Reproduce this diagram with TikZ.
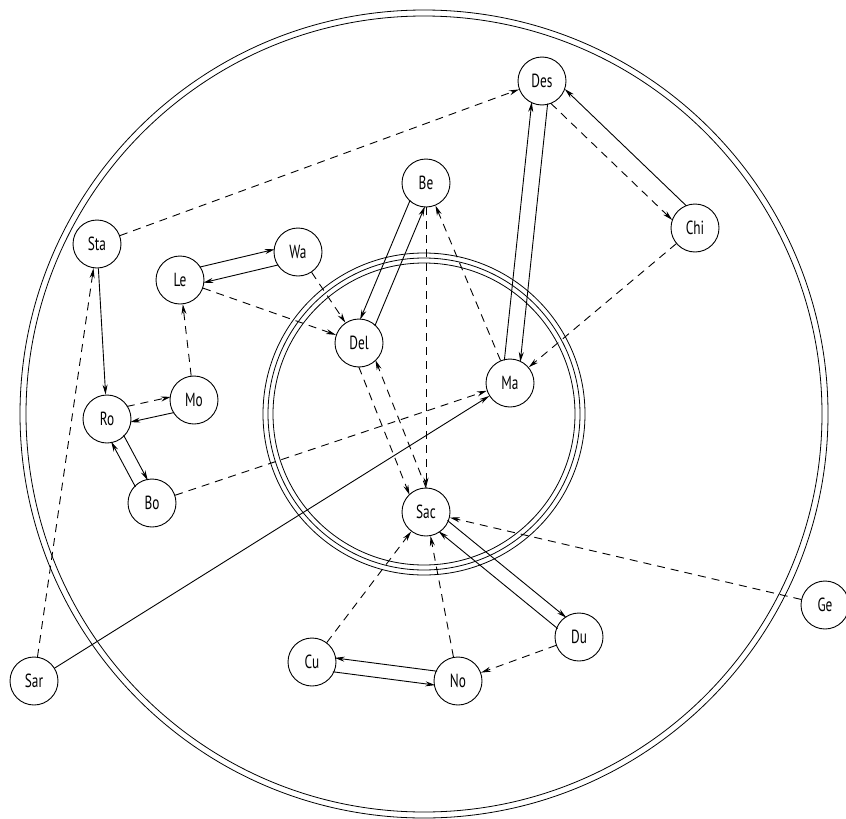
\documentclass[tikz,border=0pt]{standalone}
\usepackage{fontspec}
\newfontfamily\lblfont{PT Sans}[FakeStretch=0.7]
\usetikzlibrary{arrows.meta,calc}
\begin{document}
\begin{tikzpicture}[x=1pt,y=-1pt,
  nd/.style={circle,draw,line width=0.9pt,minimum size=48pt,inner sep=0pt,
    font=\lblfont\fontsize{19}{19}\selectfont},
  ring/.style={line width=0.8pt},
  sol/.style={line width=0.9pt,-{Stealth[length=10pt,width=5pt]}},
  dsh/.style={sol,dash pattern=on 8pt off 6pt},
  pr/.style={shorten <=22pt,shorten >=22pt}]
\useasboundingbox (0,0) rectangle (846,819);
\fill[white] (0,0) rectangle (846,819);
% rings
\coordinate (C) at (424,414);
\draw[ring] (C) circle[radius=404pt];
\draw[ring] (C) circle[radius=398pt];
\draw[ring] (C) circle[radius=161pt];
\draw[ring] (C) circle[radius=156pt];
\draw[ring] (C) circle[radius=151pt];
% nodes
\node[nd] (Des) at (542,81) {Des};
\node[nd] (Chi) at (695,228) {Chi};
\node[nd] (Be)  at (426,183) {Be};
\node[nd] (Sta) at (97,244) {Sta};
\node[nd] (Wa)  at (298,252) {Wa};
\node[nd] (Le)  at (180,280) {Le};
\node[nd] (Del) at (359,343) {Del};
\node[nd] (Ma)  at (510,383) {Ma};
\node[nd] (Mo)  at (194,400) {Mo};
\node[nd] (Ro)  at (107,419) {Ro};
\node[nd] (Bo)  at (152,503) {Bo};
\node[nd] (Sac) at (426,512) {Sac};
\node[nd] (Ge)  at (825,605) {Ge};
\node[nd] (Du)  at (579,637) {Du};
\node[nd] (Cu)  at (312,662) {Cu};
\node[nd] (No)  at (458,681) {No};
\node[nd] (Sar) at (34,681) {Sar};
% single connectors
\draw[dsh] (Sta) -- (Des);
\draw[sol] (Sta) -- (Ro);
\draw[dsh] (Sar) -- (Sta);
\draw[sol] (Sar) -- (Ma);
\draw[dsh] (Le) -- (Del);
\draw[dsh] (Wa) -- (Del);
\draw[dsh] (Mo) -- (Le);
\draw[dsh] (Bo) -- (Ma);
\draw[dsh] (Be) -- (Sac);
\draw[dsh] (Ma) -- (Be);
\draw[dsh] (Chi) -- (Ma);
\draw[dsh] (Ge) -- (Sac);
\draw[dsh] (Cu) -- (Sac);
\draw[dsh] (No) -- (Sac);
\draw[dsh] (Du) -- (No);
% paired connectors
\draw[sol,pr] ($(Le)!8pt!90:(Wa)$) -- ($(Wa)!8pt!-90:(Le)$);
\draw[sol,pr] ($(Wa)!8pt!90:(Le)$) -- ($(Le)!8pt!-90:(Wa)$);
\draw[dsh,pr] ($(Ro)!8pt!90:(Mo)$) -- ($(Mo)!8pt!-90:(Ro)$);
\draw[sol,pr] ($(Mo)!8pt!90:(Ro)$) -- ($(Ro)!8pt!-90:(Mo)$);
\draw[sol,pr] ($(Ro)!7pt!90:(Bo)$) -- ($(Bo)!7pt!-90:(Ro)$);
\draw[sol,pr] ($(Bo)!7pt!90:(Ro)$) -- ($(Ro)!7pt!-90:(Bo)$);
\draw[sol,pr] ($(Be)!8pt!-90:(Del)$) -- ($(Del)!8pt!90:(Be)$);
\draw[sol,pr] ($(Del)!8pt!-90:(Be)$) -- ($(Be)!8pt!90:(Del)$);
\draw[dsh,pr] ($(Del)!9pt!-90:(Sac)$) -- ($(Sac)!9pt!90:(Del)$);
\draw[dsh,pr] ($(Sac)!9pt!-90:(Del)$) -- ($(Del)!9pt!90:(Sac)$);
\draw[sol,pr] ($(Ma)!8pt!90:(Des)$) -- ($(Des)!8pt!-90:(Ma)$);
\draw[sol,pr] ($(Des)!8pt!90:(Ma)$) -- ($(Ma)!8pt!-90:(Des)$);
\draw[dsh,pr] ($(Des)!10pt!-90:(Chi)$) -- ($(Chi)!10pt!90:(Des)$);
\draw[sol,pr] ($(Chi)!10pt!-90:(Des)$) -- ($(Des)!10pt!90:(Chi)$);
\draw[sol,pr] ($(Sac)!7pt!90:(Du)$) -- ($(Du)!7pt!-90:(Sac)$);
\draw[sol,pr] ($(Du)!7pt!90:(Sac)$) -- ($(Sac)!7pt!-90:(Du)$);
\draw[sol,pr] ($(No)!7pt!-90:(Cu)$) -- ($(Cu)!7pt!90:(No)$);
\draw[sol,pr] ($(Cu)!7pt!-90:(No)$) -- ($(No)!7pt!90:(Cu)$);
\end{tikzpicture}
\end{document}
